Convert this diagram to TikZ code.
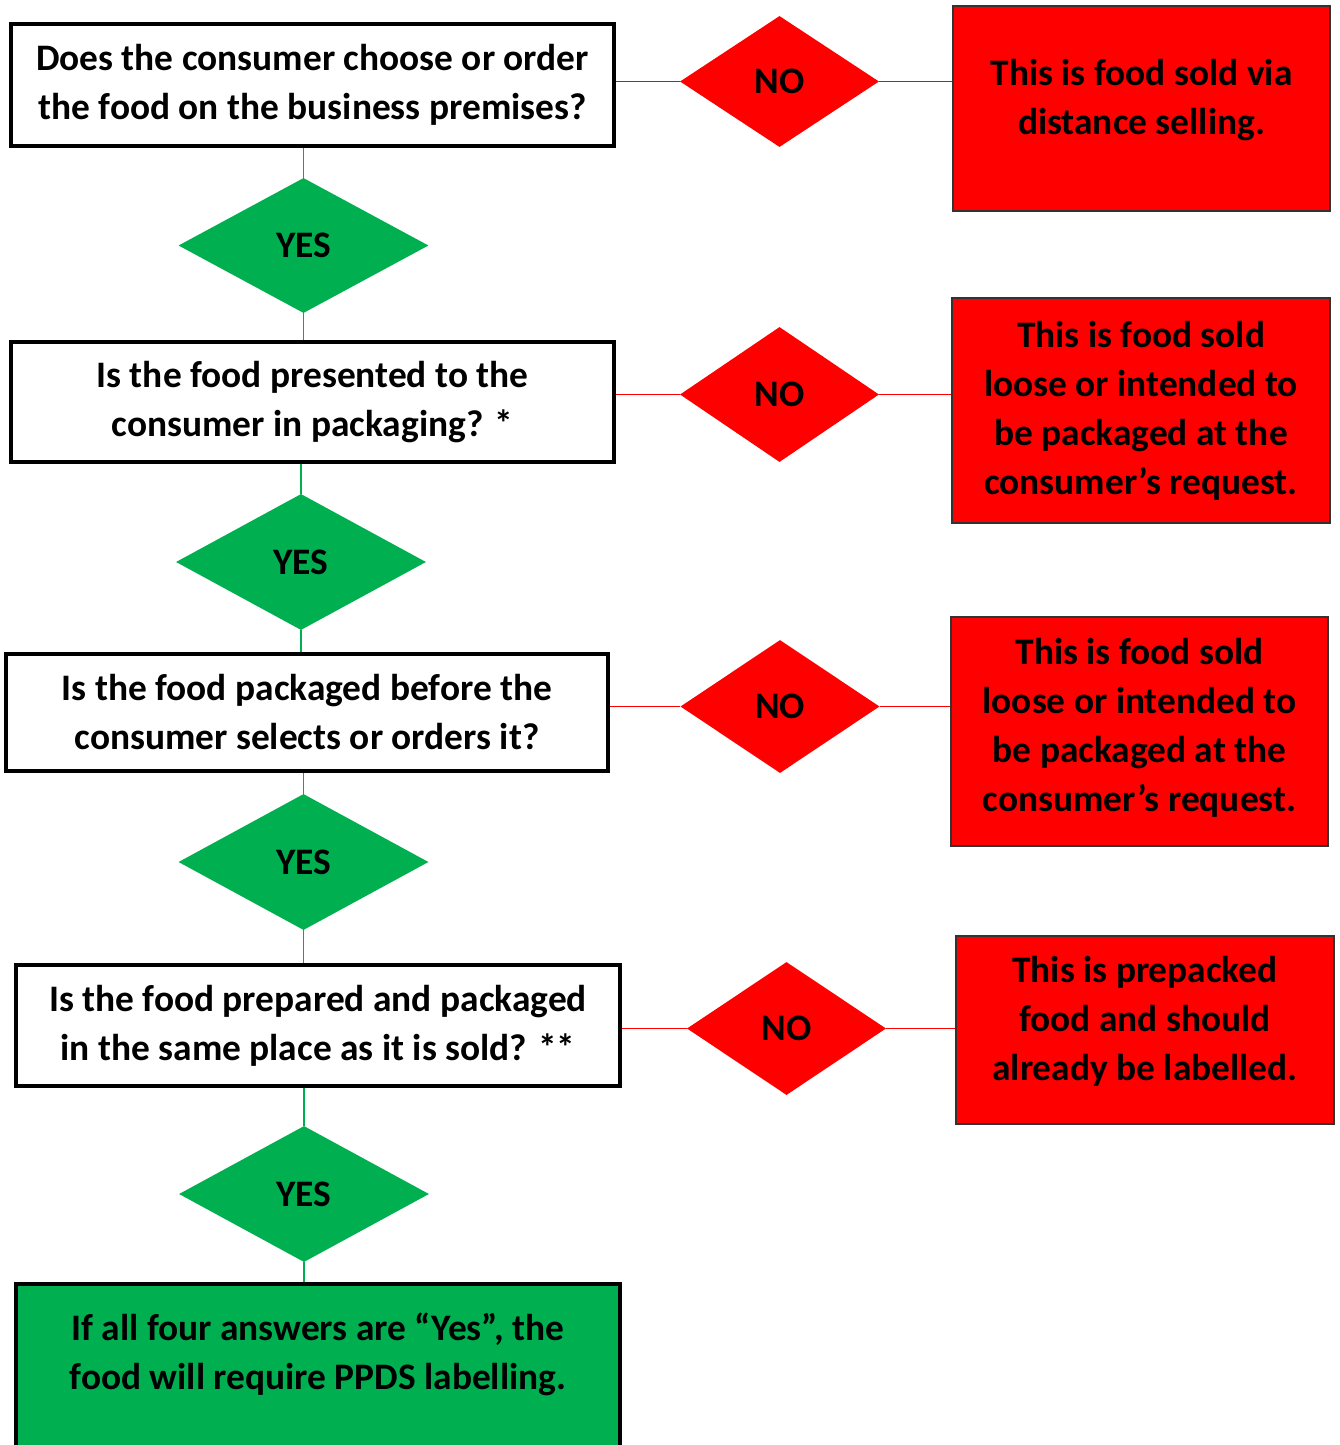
\documentclass[tikz,border=0pt]{standalone}
\usepackage{fontspec}
\setmainfont{Carlito}
\usetikzlibrary{shapes.geometric}
\definecolor{fsared}{HTML}{FF0000}
\definecolor{fsagreen}{HTML}{00B050}
\begin{document}
\begin{tikzpicture}[
                x=1pt, y=-1pt,
                every node/.style={font=\fontsize{37.4}{49}\selectfont\bfseries, align=center, inner sep=0pt},
                question/.style={rectangle, draw=black, line width=4pt, fill=white, minimum width=603pt},
                answer/.style={rectangle, draw=black!80, line width=1.3pt, fill=fsared, minimum width=377pt},
                nobox/.style={diamond, fill=fsared, minimum width=199pt, minimum height=133pt},
                yesbox/.style={diamond, fill=fsagreen, minimum width=250pt, minimum height=136pt},
                noline/.style={draw=fsared, line width=1.2pt},
                yesline/.style={draw=fsagreen, line width=1.2pt},
            ]
            \useasboundingbox (0,0) rectangle (1340,1445);
            \clip (0,0) rectangle (1340,1445);
            % questions
            \node[question, minimum height=122pt] (q1) at (312.5,85) {Does the consumer choose or order\\the food on the business premises?};
            \node[question, minimum height=120pt] (q2) at (312.5,402) {Is the food presented to the\\consumer in packaging? *};
            \node[question, minimum height=117pt, minimum width=602pt] (q3) at (307,712.5) {Is the food packaged before the\\consumer selects or orders it?};
            \node[question, minimum height=121pt, minimum width=604pt] (q4) at (318,1025.5) {Is the food prepared and packaged\\in the same place as it is sold? **};
            \node[question, fill=fsagreen, minimum height=220pt, minimum width=604pt, anchor=north] (ppds) at (318,1282) {};
            \node (ppdstext) at (318,1354) {If all four answers are “Yes”, the\\food will require PPDS labelling.};
            % yes diamonds
            \node[yesbox, minimum height=135pt] (y1) at (303.5,245.5) {YES};
            \node[yesbox] (y2) at (301,562) {YES};
            \node[yesbox] (y3) at (303.5,862) {YES};
            \node[yesbox] (y4) at (304,1194) {YES};
            % no diamonds
            \node[nobox, minimum height=131pt] (n1) at (779.5,81.5) {NO};
            \node[nobox, minimum height=135pt] (n2) at (779.5,394.5) {NO};
            \node[nobox] (n3) at (780,706.5) {NO};
            \node[nobox] (n4) at (786.5,1028.5) {NO};
            % outcomes
            \node[answer, minimum height=205pt] (r1) at (1141.5,108.5) {This is food sold via\\distance selling.\\[-26.5pt]};
            \node[answer, minimum height=225pt, minimum width=378pt] (r2) at (1141,410.5) {This is food sold\\loose or intended to\\be packaged at the\\consumer’s request.};
            \node[answer, minimum height=229pt] (r3) at (1139.5,731.5) {This is food sold\\loose or intended to\\be packaged at the\\consumer’s request.\\[-36pt]};
            \node[answer, minimum height=188pt, minimum width=378pt] (r4) at (1145,1030) {This is prepacked\\food and should\\already be labelled.\\[-26.5pt]};
            % connectors
            \draw[yesline] (y1.north |- q1.south) -- (y1.north);
            \draw[yesline] (y1.south) -- (y1.south |- q2.north);
            \draw[yesline] (y2.north |- q2.south) -- (y2.north);
            \draw[yesline] (y2.south) -- (y2.south |- q3.north);
            \draw[yesline] (y3.north |- q3.south) -- (y3.north);
            \draw[yesline] (y3.south) -- (y3.south |- q4.north);
            \draw[yesline] (y4.north |- q4.south) -- (y4.north);
            \draw[yesline] (y4.south) -- (y4.south |- ppds.north);
            \draw[noline] (q1.east |- n1.west) -- (n1.west);
            \draw[noline] (n1.east) -- (n1.east -| r1.west);
            \draw[noline] (q2.east |- n2.west) -- (n2.west);
            \draw[noline] (n2.east) -- (n2.east -| r2.west);
            \draw[noline] (q3.east |- n3.west) -- (n3.west);
            \draw[noline] (n3.east) -- (n3.east -| r3.west);
            \draw[noline] (q4.east |- n4.west) -- (n4.west);
            \draw[noline] (n4.east) -- (n4.east -| r4.west);
            \end{tikzpicture}
\end{document}
